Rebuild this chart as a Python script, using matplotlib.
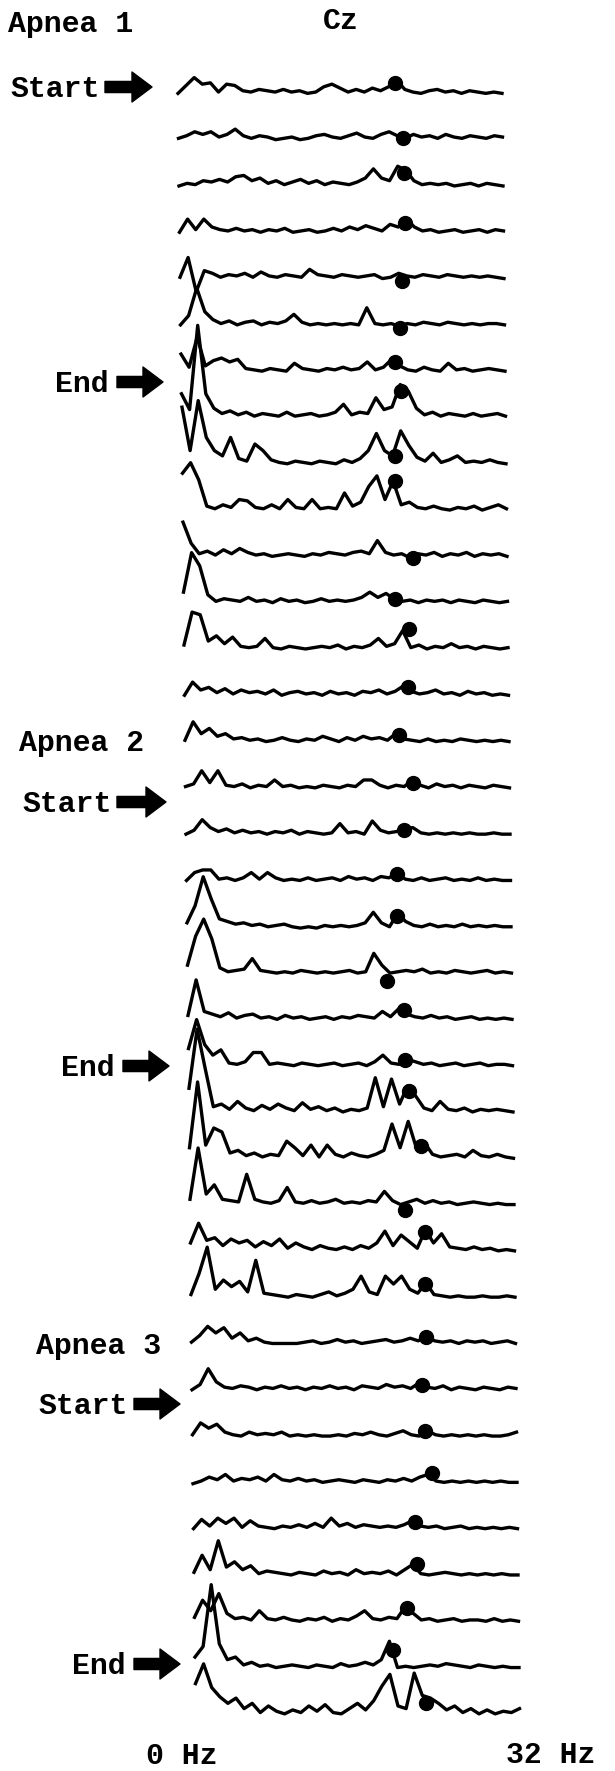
import matplotlib.pyplot as plt
import numpy as np

# EEG power spectra at Cz, 0-32 Hz in 0.8 Hz bins, one row per epoch
freqs = np.linspace(0, 32, 41)

apnea1_spectra = [
    [2, 8, 14, 9, 10, 3, 9, 8, 4, 3, 5, 4, 3, 5, 3, 4, 2, 3, 7, 9, 6, 3, 5, 3, 6, 4, 7, 12, 5, 3, 2, 4, 5, 3, 4, 2, 4, 3, 2, 3, 2],
    [3, 5, 8, 6, 8, 4, 6, 10, 5, 3, 5, 4, 2, 3, 4, 2, 3, 5, 6, 4, 3, 5, 7, 4, 3, 6, 8, 5, 3, 6, 4, 5, 3, 6, 4, 3, 5, 4, 3, 5, 4],
    [2, 4, 3, 6, 5, 7, 5, 9, 10, 6, 8, 4, 6, 3, 5, 7, 4, 6, 3, 5, 4, 3, 5, 8, 15, 8, 6, 17, 14, 6, 3, 4, 3, 4, 2, 3, 4, 2, 4, 3, 2],
    [2, 12, 4, 12, 6, 4, 3, 5, 3, 4, 2, 4, 3, 5, 2, 3, 4, 2, 3, 5, 3, 6, 4, 7, 5, 3, 8, 6, 12, 6, 3, 4, 2, 3, 4, 2, 3, 4, 2, 4, 3],
    [3, 18, -8, 8, 6, 3, 5, 4, 6, 3, 7, 4, 3, 5, 4, 3, 9, 5, 4, 3, 5, 4, 3, 4, 5, 2, 3, 6, 4, 3, 5, 4, 3, 5, 4, 3, 4, 3, 4, 3, 2],
    [2, 9, 30, 12, 6, 3, 5, 2, 4, 5, 2, 4, 3, 5, 10, 4, 2, 3, 2, 3, 2, 3, 2, 15, 3, 2, 3, 1, 3, 2, 4, 3, 2, 4, 3, 2, 3, 2, 3, 3, 2],
    [15, 5, 28, 6, 10, 12, 9, 11, 4, 3, 2, 4, 3, 2, 8, 4, 3, 2, 4, 3, 5, 3, 4, 9, 3, 5, 11, 6, 3, 2, 5, 3, 2, 8, 3, 4, 2, 3, 4, 3, 2],
    [20, 8, 72, 20, 9, 5, 7, 4, 6, 3, 5, 4, 3, 6, 3, 4, 5, 3, 4, 6, 12, 4, 6, 5, 17, 8, 10, 27, 22, 9, 4, 6, 3, 5, 4, 3, 5, 3, 4, 5, 3],
    [45, 12, 50, 22, 12, 8, 22, 6, 4, 17, 12, 5, 3, 2, 4, 3, 2, 4, 3, 2, 5, 3, 6, 12, 25, 12, 8, 27, 16, 7, 4, 10, 3, 5, 8, 3, 4, 3, 5, 3, 2],
    [30, 38, 25, 5, 3, 6, 4, 10, 9, 4, 3, 6, 3, 10, 4, 3, 10, 3, 4, 3, 15, 5, 8, 20, 28, 10, 24, 6, 8, 4, 3, 5, 3, 2, 4, 3, 5, 2, 4, 6, 3],
    [28, 12, 4, 6, 3, 7, 4, 8, 5, 3, 4, 2, 3, 4, 3, 2, 4, 3, 5, 4, 3, 5, 6, 4, 14, 5, 3, 4, 1, 4, 3, 5, 2, 4, 3, 5, 2, 4, 3, 4, 2],
    [10, 40, 30, 8, 3, 5, 4, 3, 6, 3, 4, 2, 5, 3, 4, 2, 3, 5, 3, 4, 3, 4, 6, 10, 6, 9, 5, 3, 4, 2, 4, 3, 4, 2, 4, 3, 2, 4, 3, 2, 3],
    [5, 30, 28, 8, 12, 6, 11, 4, 3, 4, 10, 3, 2, 4, 3, 2, 3, 4, 3, 5, 2, 4, 3, 5, 10, 4, 6, 16, 3, 5, 2, 4, 3, 6, 3, 4, 2, 4, 3, 2, 3],
    [2, 12, 6, 8, 4, 7, 3, 6, 4, 5, 3, 6, 2, 4, 5, 3, 4, 2, 5, 3, 4, 2, 5, 4, 6, 3, 5, 9, 5, 3, 4, 6, 3, 4, 2, 5, 3, 4, 2, 3, 2],
]
apnea1_peak_hz = [21.4, 22.2, 22.2, 22.3, 21.9, 21.7, 21.1, 21.7, 21.0, 21.0, 22.7, 20.9, 22.2, 22.1]
apnea1_peak_amp = [10, 3, 12, 9, 0, 0, 9, 22, 8, 24, 1, 5, 17, 8]

apnea2_spectra = [
    [3, 17, 8, 12, 6, 8, 4, 5, 3, 4, 2, 3, 5, 3, 2, 4, 3, 6, 4, 2, 5, 3, 6, 4, 5, 3, 8, 4, 3, 2, 4, 2, 3, 2, 4, 3, 2, 3, 2, 3, 2],
    [3, 5, 15, 6, 15, 4, 3, 5, 2, 4, 3, 8, 3, 4, 2, 3, 2, 4, 3, 2, 4, 3, 8, 8, 4, 2, 4, 3, 8, 4, 2, 5, 3, 4, 2, 4, 3, 2, 4, 3, 2],
    [2, 5, 13, 7, 4, 6, 3, 5, 3, 4, 2, 4, 3, 5, 2, 4, 3, 2, 3, 10, 3, 4, 2, 12, 5, 3, 4, 6, 7, 3, 2, 3, 2, 3, 2, 3, 2, 2, 3, 2, 2],
    [2, 8, 10, 10, 3, 4, 2, 4, 8, 3, 8, 4, 2, 3, 2, 4, 2, 3, 4, 2, 5, 3, 4, 2, 5, 4, 8, 3, 2, 4, 2, 3, 4, 2, 3, 2, 4, 2, 3, 2, 2],
    [5, 18, 40, 23, 8, 6, 4, 5, 3, 4, 2, 3, 4, 2, 1, 2, 1, 3, 2, 3, 2, 3, 5, 13, 5, 2, 12, 6, 3, 2, 4, 2, 3, 2, 4, 2, 3, 2, 3, 2, 2],
    [8, 30, 43, 28, 6, 3, 4, 5, 13, 4, 3, 2, 3, 2, 4, 3, 2, 3, 2, 3, 4, 2, 3, 17, 8, 2, 3, 4, 3, 5, 2, 3, 2, 4, 3, 2, 3, 4, 2, 3, 2],
    [5, 32, 8, 6, 4, 7, 3, 5, 6, 3, 4, 2, 5, 3, 4, 2, 3, 4, 2, 4, 3, 5, 4, 3, 8, 4, 10, 6, 4, 3, 5, 3, 4, 2, 3, 4, 2, 3, 2, 3, 2],
    [15, 37, 18, 10, 14, 4, 3, 5, 12, 12, 3, 4, 3, 2, 4, 3, 2, 3, 4, 2, 3, 4, 2, 5, 10, 4, 3, 7, 5, 3, 4, 2, 3, 4, 2, 3, 4, 2, 3, 3, 2],
    [20, 65, 35, 6, 8, 4, 10, 5, 3, 7, 4, 8, 5, 3, 9, 4, 6, 3, 5, 2, 4, 3, 5, 28, 6, 27, 8, 22, 14, 5, 3, 10, 4, 3, 5, 2, 4, 3, 4, 3, 2],
    [10, 60, 12, 25, 22, 6, 8, 4, 6, 3, 5, 4, 15, 10, 4, 12, 3, 12, 5, 3, 6, 4, 3, 5, 8, 28, 10, 30, 10, 14, 5, 3, 4, 5, 3, 8, 4, 3, 5, 3, 2],
    [6, 45, 10, 17, 6, 5, 4, 25, 6, 4, 3, 5, 15, 4, 3, 5, 3, 4, 6, 3, 4, 3, 5, 4, 12, 5, 2, 4, 6, 3, 5, 3, 4, 2, 3, 4, 3, 2, 3, 2, 2],
    [8, 23, 10, 12, 6, 11, 8, 10, 5, 9, 6, 11, 4, 8, 5, 3, 6, 4, 3, 5, 3, 6, 4, 8, 17, 6, 14, 9, 4, 18, 8, 15, 5, 4, 3, 5, 3, 4, 2, 3, 2],
    [4, 20, 40, 8, 15, 10, 14, 6, 30, 5, 4, 3, 2, 4, 3, 2, 4, 6, 3, 5, 8, 18, 6, 4, 18, 12, 18, 8, 5, 13, 4, 3, 2, 3, 2, 2, 3, 2, 2, 3, 2],
]
apnea2_peak_hz = [21.1, 22.5, 21.5, 20.8, 20.7, 19.7, 21.3, 21.4, 21.7, 22.9, 21.2, 23.2, 23.1]
apnea2_peak_amp = [7, 6, 5, 7, 10, -4, 9, 6, 18, 11, -2, 16, 12]

apnea3_spectra = [
    [3, 8, 15, 10, 14, 6, 10, 4, 6, 3, 2, 2, 2, 2, 3, 4, 2, 3, 5, 3, 4, 2, 3, 4, 5, 3, 4, 6, 4, 8, 4, 3, 4, 2, 4, 3, 4, 2, 3, 4, 2],
    [2, 6, 18, 8, 4, 3, 5, 4, 2, 4, 3, 5, 3, 4, 2, 4, 3, 5, 3, 4, 2, 5, 4, 3, 6, 4, 5, 3, 7, 4, 3, 5, 2, 4, 3, 2, 4, 3, 2, 4, 3],
    [3, 12, 8, 11, 5, 3, 2, 5, 3, 4, 3, 5, 2, 3, 2, 3, 2, 2, 3, 2, 4, 3, 5, 3, 2, 4, 6, 3, 2, 6, 3, 2, 3, 2, 3, 2, 3, 2, 2, 3, 5],
    [1, 3, 6, 4, 8, 3, 5, 4, 6, 3, 8, 4, 3, 5, 3, 4, 2, 3, 4, 3, 2, 4, 3, 2, 4, 3, 5, 3, 6, 8, 3, 2, 3, 2, 3, 2, 3, 2, 3, 2, 2],
    [2, 9, 4, 10, 6, 10, 3, 8, 4, 3, 2, 4, 3, 5, 3, 6, 3, 10, 4, 6, 3, 5, 4, 3, 4, 3, 5, 8, 4, 3, 4, 2, 3, 4, 2, 3, 2, 3, 2, 3, 2],
    [4, 17, 6, 28, 8, 12, 6, 9, 3, 5, 4, 3, 2, 4, 3, 2, 5, 3, 4, 2, 6, 3, 4, 3, 5, 2, 6, 10, 3, 2, 3, 4, 3, 2, 3, 2, 3, 2, 3, 2, 2],
    [5, 18, 10, 23, 8, 4, 5, 3, 10, 4, 3, 5, 3, 2, 4, 3, 5, 2, 4, 3, 6, 10, 4, 3, 5, 4, 13, 8, 3, 4, 2, 3, 4, 2, 3, 3, 2, 4, 2, 3, 2],
    [10, 18, 65, 20, 8, 10, 4, 6, 3, 4, 2, 3, 4, 3, 2, 4, 3, 2, 5, 3, 4, 6, 4, 8, 22, 2, 3, 2, 3, 4, 3, 5, 4, 3, 2, 4, 3, 2, 3, 2, 2],
    [25, 40, 22, 15, 10, 14, 6, 10, 3, 8, 4, 2, 5, 3, 8, 4, 9, 3, 2, 6, 10, 5, 12, 23, 32, 8, 6, 33, 16, 14, 10, 5, 8, 3, 6, 2, 5, 2, 4, 3, 6],
]
apnea3_peak_hz = [23.2, 22.7, 23.0, 23.6, 21.9, 22.0, 21.0, 19.6, 22.8]
apnea3_peak_amp = [7, 6, 6, 9, 7, 10, 12, 15, 10]

# labels
group_labels = ["Apnea 1", "Apnea 2", "Apnea 3"]
marker_labels = ["Start", "End"]
channel = "Cz"
freq_labels = ["0 Hz", "32 Hz"]

spectra = apnea1_spectra + apnea2_spectra + apnea3_spectra
peak_hz = apnea1_peak_hz + apnea2_peak_hz + apnea3_peak_hz
peak_amp = apnea1_peak_amp + apnea2_peak_amp + apnea3_peak_amp

W, H = 615, 1771
fig = plt.figure(figsize=(W / 100, H / 100), dpi=100)
fig.patch.set_facecolor("white")

# page axes in pixel coordinates (origin top-left) for the labels
page = fig.add_axes([0, 0, 1, 1])
page.set_xlim(0, W)
page.set_ylim(H, 0)
page.axis("off")

row_step = 46.3
for i, (vals, hz, amp) in enumerate(zip(spectra, peak_hz, peak_amp)):
    y0 = 96 + row_step * i
    x0 = 178 + 0.5 * i
    ax = fig.add_axes([x0 / W, (H - y0) / H, 324 / W, 100 / H])
    ax.set_xlim(0, 32)
    ax.set_ylim(0, 76)
    ax.axis("off")
    ax.plot(freqs, vals, color="black", lw=2.4, clip_on=False,
            solid_joinstyle="round")
    ax.plot(hz, amp, "o", color="black", ms=10, clip_on=False)

font = dict(family=["Liberation Mono", "DejaVu Sans Mono"], fontsize=21.5,
            fontweight="bold", color="black", va="center")

page.text(8, 24, group_labels[0], **font)
page.text(341, 21, channel, ha="center", **font)
page.text(19, 743, group_labels[1], **font)
page.text(36, 1346, group_labels[2], **font)

arrow_props = dict(arrowstyle="simple,head_length=0.9,head_width=1.35,tail_width=0.5",
                   fc="black", ec="black", mutation_scale=16, shrinkA=0, shrinkB=0)

# (label, text x, y, arrow start, arrow end)
pointers = [
    (marker_labels[0], 10, 89, 105, 152),
    (marker_labels[1], 55, 384, 117, 163),
    (marker_labels[0], 22, 804, 117, 166),
    (marker_labels[1], 61, 1068, 123, 169),
    (marker_labels[0], 38, 1406, 134, 180),
    (marker_labels[1], 72, 1666, 134, 180),
]
for label, tx, ty, ax0, ax1 in pointers:
    page.text(tx, ty, label, **font)
    page.annotate("", xy=(ax1, ty - 2), xytext=(ax0, ty - 2), arrowprops=arrow_props)

page.text(146, 1756, freq_labels[0], **font)
page.text(506, 1755, freq_labels[1], **font)

fig.savefig("out.png", dpi=100, facecolor="white")
